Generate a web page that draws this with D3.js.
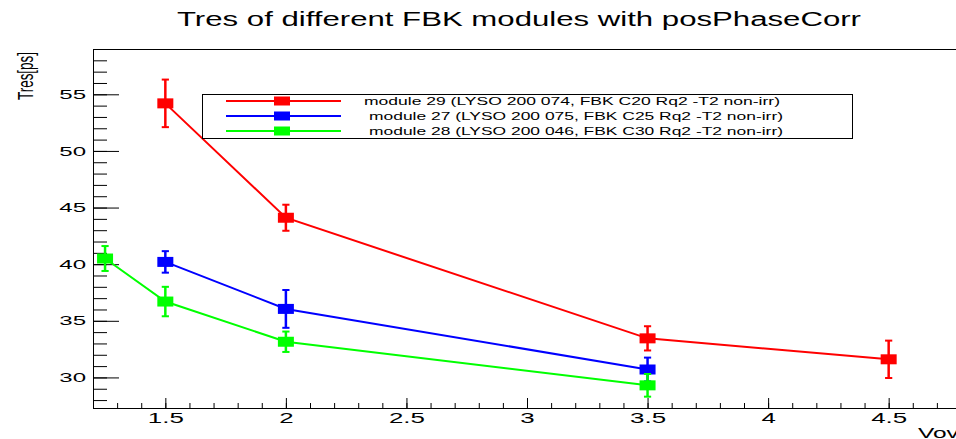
<!DOCTYPE html>
<html>
<head>
<meta charset="utf-8">
<script src="https://cdn.jsdelivr.net/npm/d3@7"></script>
<style>
  body { margin: 0; background: #fff; }
  svg { display: block; }
  text { font-family: "Liberation Sans", Arial, Helvetica, sans-serif; fill: #000; }
</style>
</head>
<body>
<svg width="956" height="439"></svg>
<script>
// values
var vov29 = [1.5, 2, 3.5, 4.5],
    tres29 = [54.2, 44.1, 33.45, 31.6],
    err29 = [2.1, 1.15, 1.07, 1.65];
var vov27 = [1.5, 2, 3.5],
    tres27 = [40.2, 36.05, 30.7],
    err27 = [0.95, 1.67, 1.05];
var vov28 = [1.25, 1.5, 2, 3.5],
    tres28 = [40.5, 36.7, 33.15, 29.3],
    err28 = [1.1, 1.3, 0.9, 1.0];

var legendLabels = [
  "module 29 (LYSO 200 074, FBK C20 Rq2 -T2 non-irr)",
  "module 27 (LYSO 200 075, FBK C25 Rq2 -T2 non-irr)",
  "module 28 (LYSO 200 046, FBK C30 Rq2 -T2 non-irr)"
];
var xMajor = [1.5, 2, 2.5, 3, 3.5, 4, 4.5];
var yMajor = [30, 35, 40, 45, 50, 55];

var svg = d3.select("svg");

var frame = {left: 93, top: 49, right: 961, bottom: 408};
var x = d3.scaleLinear().domain([1.2, 4.8]).range([frame.left, frame.right]);
var y = d3.scaleLinear().domain([27.3, 59.0]).range([frame.bottom, frame.top]);

var series = [
  {color: "#ff0000", vov: vov29, tres: tres29, err: err29},
  {color: "#0000ff", vov: vov27, tres: tres27, err: err27},
  {color: "#00ff00", vov: vov28, tres: tres28, err: err28}
];

// title
svg.append("text")
  .attr("x", 177).attr("y", 26)
  .attr("font-size", 19.5)
  .attr("textLength", 684)
  .attr("lengthAdjust", "spacingAndGlyphs")
  .text("Tres of different FBK modules with posPhaseCorr");

// frame
svg.append("rect")
  .attr("x", frame.left + 0.5).attr("y", frame.top + 0.5)
  .attr("width", frame.right - frame.left).attr("height", frame.bottom - frame.top)
  .attr("fill", "none").attr("stroke", "#000").attr("stroke-width", 1);

var sx = 1.85;

// y axis: minor then major ticks, pointing inward
var yMinor = d3.range(28, 59);
svg.append("g")
  .attr("transform", "translate(" + frame.left + ",0)")
  .call(d3.axisLeft(y).tickValues(yMinor).tickFormat("").tickSizeInner(-14).tickSizeOuter(0))
  .call(function (g) { g.select(".domain").remove(); });

svg.append("g")
  .attr("transform", "translate(" + frame.left + ",0)")
  .call(d3.axisLeft(y).tickValues(yMajor).tickFormat(d3.format("d")).tickSizeInner(-26).tickSizeOuter(0).tickPadding(7))
  .call(function (g) {
    g.select(".domain").remove();
    g.selectAll("text")
      .attr("font-size", 13)
      .attr("font-family", null)
      .attr("x", -7 / sx)
      .attr("transform", "scale(" + sx + ",1)");
  });

// x axis
var xMinor = d3.range(13, 48).map(function (d) { return d / 10; });
svg.append("g")
  .attr("transform", "translate(0," + frame.bottom + ")")
  .call(d3.axisBottom(x).tickValues(xMinor).tickFormat("").tickSizeInner(-5).tickSizeOuter(0))
  .call(function (g) { g.select(".domain").remove(); });

svg.append("g")
  .attr("transform", "translate(0," + frame.bottom + ")")
  .call(d3.axisBottom(x).tickValues(xMajor).tickFormat(d3.format("")).tickSizeInner(-10).tickSizeOuter(0).tickPadding(5))
  .call(function (g) {
    g.select(".domain").remove();
    g.selectAll("text")
      .attr("font-size", 14)
      .attr("font-family", null)
      .attr("transform", "scale(" + sx + ",1)");
  });
svg.selectAll(".tick line").attr("stroke", "#000");

// axis titles
svg.append("text")
  .attr("transform", "translate(33,100) rotate(-90)")
  .attr("font-size", 22)
  .attr("textLength", 48)
  .attr("lengthAdjust", "spacingAndGlyphs")
  .text("Tres[ps]");

svg.append("text")
  .attr("transform", "translate(918,438) scale(1.75,1)")
  .attr("font-size", 14)
  .text("Vov");

// graphs
var line = d3.line()
  .x(function (d) { return x(d.v); })
  .y(function (d) { return y(d.t); });

var mw = 16, mh = 10, cap = 3.6;

series.forEach(function (s) {
  var pts = s.vov.map(function (v, i) { return {v: v, t: s.tres[i], e: s.err[i]}; });
  var g = svg.append("g");

  g.append("path")
    .datum(pts)
    .attr("d", line)
    .attr("fill", "none")
    .attr("stroke", s.color)
    .attr("stroke-width", 2);

  var eb = g.selectAll(".err").data(pts).enter().append("g").attr("class", "err")
    .attr("stroke", s.color).attr("stroke-width", 2.5);
  eb.append("line")
    .attr("x1", function (d) { return x(d.v); })
    .attr("x2", function (d) { return x(d.v); })
    .attr("y1", function (d) { return y(d.t + d.e); })
    .attr("y2", function (d) { return y(d.t - d.e); });
  eb.append("line")
    .attr("x1", function (d) { return x(d.v) - cap; })
    .attr("x2", function (d) { return x(d.v) + cap; })
    .attr("y1", function (d) { return y(d.t + d.e); })
    .attr("y2", function (d) { return y(d.t + d.e); })
    .attr("stroke-width", 2);
  eb.append("line")
    .attr("x1", function (d) { return x(d.v) - cap; })
    .attr("x2", function (d) { return x(d.v) + cap; })
    .attr("y1", function (d) { return y(d.t - d.e); })
    .attr("y2", function (d) { return y(d.t - d.e); })
    .attr("stroke-width", 2);

  g.selectAll(".mk").data(pts).enter().append("rect").attr("class", "mk")
    .attr("x", function (d) { return x(d.v) - mw / 2; })
    .attr("y", function (d) { return y(d.t) - mh / 2; })
    .attr("width", mw).attr("height", mh)
    .attr("fill", s.color);
});

// legend
var lg = svg.append("g");
lg.append("rect")
  .attr("x", 202.5).attr("y", 94.5)
  .attr("width", 650).attr("height", 44)
  .attr("fill", "#fff").attr("stroke", "#000").attr("stroke-width", 1);

var rowY = [101, 116, 131];
var textX = [364, 369, 369];
var textW = [416, 414, 414];
series.forEach(function (s, i) {
  lg.append("line")
    .attr("x1", 226).attr("x2", 341)
    .attr("y1", rowY[i]).attr("y2", rowY[i])
    .attr("stroke", s.color).attr("stroke-width", 2);
  lg.append("rect")
    .attr("x", 282 - mw / 2).attr("y", rowY[i] - 4.5)
    .attr("width", mw).attr("height", 9)
    .attr("fill", s.color);
  lg.append("text")
    .attr("x", textX[i]).attr("y", rowY[i] + 4)
    .attr("font-size", 11)
    .attr("textLength", textW[i])
    .attr("lengthAdjust", "spacingAndGlyphs")
    .text(legendLabels[i]);
});
</script>
</body>
</html>
